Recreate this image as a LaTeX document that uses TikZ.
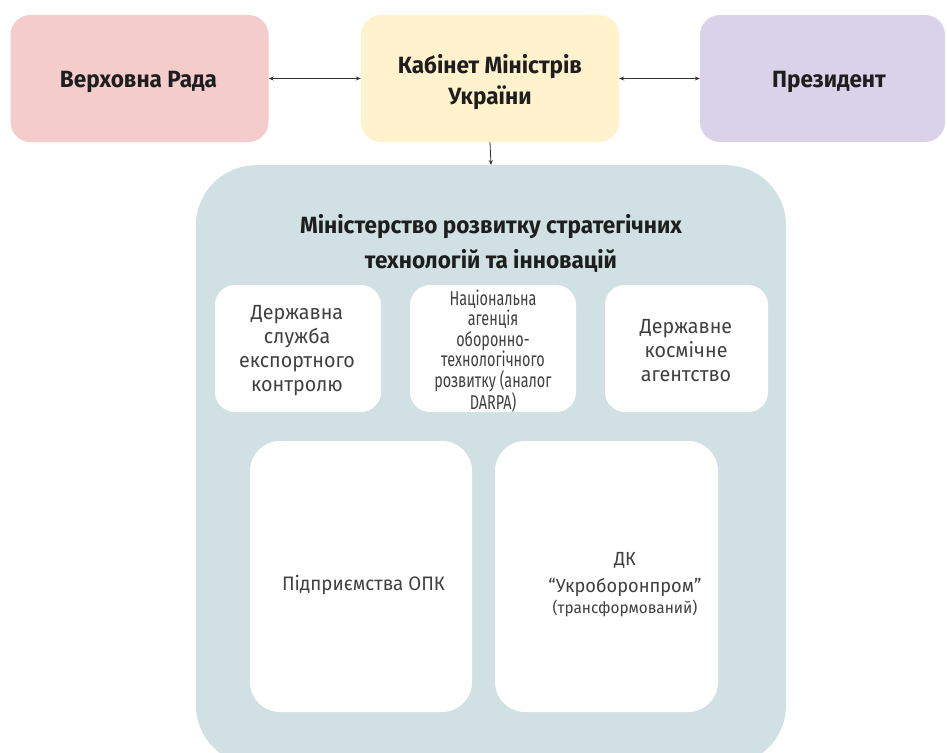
\documentclass[tikz,border=0pt]{standalone}
\usepackage{fontspec}
\setmainfont{Fira Sans}[FakeStretch=0.96]
\newfontfamily\narrowf{Fira Sans}[FakeStretch=0.72]
\usetikzlibrary{arrows.meta}
\definecolor{radac}{HTML}{F4CCCC}
\definecolor{kabc}{HTML}{FFF2CC}
\definecolor{prezc}{HTML}{D9D2E9}
\definecolor{minc}{HTML}{D0E0E3}
\definecolor{txtc}{HTML}{1E1E1E}
\definecolor{arrc}{HTML}{333333}
\tikzset{
  topbox/.style={rectangle, rounded corners=20pt, inner sep=0pt, minimum height=127pt},
  toptext/.style={inner sep=0pt, align=center, text=txtc, font=\fontsize{23.5}{31}\selectfont\bfseries},
  smallbox/.style={rectangle, rounded corners=20pt, fill=white, inner sep=0pt, align=center,
    minimum height=127pt, text=txtc!85, font=\fontsize{20.5}{24}\selectfont},
  bigbox/.style={rectangle, rounded corners=30pt, fill=white, inner sep=0pt, minimum height=271pt},
  bigtext/.style={inner sep=0pt, text=txtc!85, font=\fontsize{19.5}{25}\selectfont},
  link/.style={arrc, line width=0.8pt, {Stealth[length=5pt,width=4pt]}-{Stealth[length=5pt,width=4pt]}},
  onelink/.style={arrc, line width=0.8pt, -{Stealth[length=5pt,width=4pt]}}
}
\begin{document}
\begin{tikzpicture}[x=1pt,y=-1pt]
\useasboundingbox (0,0) rectangle (947,752);
\fill[white] (0,0) rectangle (947,752);
\clip (0,0) rectangle (947,752);

\node[topbox, fill=radac, minimum width=258pt] (rada) at (139.5,78.5) {};
\node[topbox, fill=kabc, minimum width=258pt] (kab) at (490,78.5) {};
\node[topbox, fill=prezc, minimum width=245pt] (prez) at (822.5,78.5) {};
\node[toptext, anchor=base] (radat) at (138.5,88) {Верховна Рада};
\node[toptext] (kabt) at (490,82) {Кабінет Міністрів\\України};
\node[toptext, anchor=base] (prezt) at (829,88) {Президент};

\node[rectangle, rounded corners=60pt, fill=minc, minimum width=590pt, minimum height=600pt, inner sep=0pt, anchor=north] (min) at (491,165) {};
\node[align=center, text=txtc, font=\fontsize{23.5}{35}\selectfont\bfseries] (mintitle) at (491,243) {Міністерство розвитку стратегічних\\технологій та інновацій};

\node[smallbox, minimum width=166pt] (svc) at (298,348.5) {};
\node[smallbox, minimum width=166pt] (nad) at (493,348.5) {};
\node[smallbox, minimum width=163pt] (dka) at (686.5,348.5) {};
\node[smallbox, fill=none] (svct) at (297,351) {Державна\\служба\\експортного\\контролю};
\node[smallbox, fill=none, font=\narrowf\fontsize{20}{20.4}\selectfont] (nadt) at (493,351) {Національна\\агенція\\оборонно-\\технологічного\\розвитку (аналог\\DARPA)};
\node[smallbox, fill=none] (dkat) at (686,351) {Державне\\космічне\\агентство};

\node[bigbox, minimum width=222pt] (opk) at (361,576.5) {};
\node[bigbox, minimum width=223pt] (ukr) at (606.5,576.5) {};
\node[bigtext, anchor=base] (opkt) at (363.5,590) {Підприємства ОПК};
\node[bigtext, anchor=base, font=\fontsize{19}{25}\selectfont] (ukrdk) at (625,565) {ДК};
\node[bigtext, anchor=base, font=\fontsize{19}{25}\selectfont] (ukrname) at (625,592) {“Укроборонпром”};
\node[bigtext, anchor=base, font=\fontsize{16}{20}\selectfont] (ukrnote) at (625,613) {(трансформований)};

\draw[link] (rada.east) -- (kab.west);
\draw[link] (kab.east) -- (prez.west);
\draw[onelink] (kab.south) -- (min.north);
\end{tikzpicture}
\end{document}
